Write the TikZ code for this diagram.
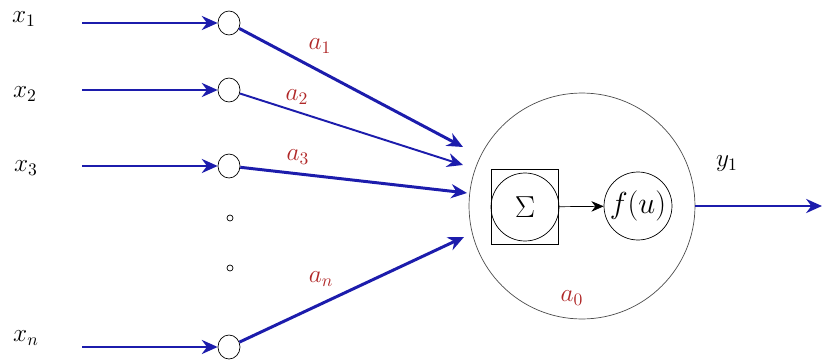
\documentclass[tikz,border=0pt]{standalone}
\usetikzlibrary{arrows.meta,shapes.geometric}
\definecolor{wireblue}{RGB}{28,28,172}
\definecolor{weightred}{RGB}{176,40,40}
\tikzset{
  wire/.style={draw=wireblue, line width=1.7pt, -{Stealth[length=9pt,width=8pt]}},
  thinwire/.style={wire, line width=1.1pt},
  port/.style={draw, ellipse, fill=white, minimum width=0.44cm, minimum height=0.48cm, inner sep=0pt},
  gap/.style={draw, circle, minimum size=0.12cm, inner sep=0pt},
  cell/.style={draw=black!70, circle, minimum size=4.52cm, inner sep=0pt},
  sumbox/.style={draw, minimum width=1.34cm, minimum height=1.5cm, inner sep=0pt},
  ring/.style={draw, circle, minimum size=1.36cm, inner sep=0pt},
  weight/.style={text=weightred}
}
\begin{document}
\begin{tikzpicture}[x=0.02cm, y=-0.02cm, every node/.style={font=\fontsize{14}{16}\selectfont}]
  \useasboundingbox (0,0) rectangle (826,362);

  \node (x1) at (24,19) {$x_1$};
  \node (x2) at (25,94) {$x_2$};
  \node (x3) at (26,168) {$x_3$};
  \node (xn) at (26,338) {$x_n$};

  \node[port] (p1) at (229,23) {};
  \node[port] (p2) at (229,90) {};
  \node[port] (p3) at (229,166) {};
  \node[port] (pn) at (229,347) {};
  \node[gap] (d1) at (230,218) {};
  \node[gap] (d2) at (230,268) {};

  \coordinate (s1) at (82,23);
  \coordinate (s2) at (82,90);
  \coordinate (s3) at (82,166);
  \coordinate (sn) at (82,347);
  \draw[wire] (s1) -- (p1);
  \draw[wire] (s2) -- (p2);
  \draw[wire] (s3) -- (p3);
  \draw[wire] (sn) -- (pn);

  \node[cell] (cell) at (582,206) {};
  \node[sumbox] (sum) at (525,207) {};
  \node[ring] (sumring) at (sum.center) {\fontsize{17}{19}\selectfont$\Sigma$};
  \node[ring] (act) at (638,206) {\fontsize{17}{19}\selectfont$f(u)$};
  \draw[-{Stealth[length=7pt,width=6pt]}] (sum) -- (act);

  \coordinate (t1) at (463,147);
  \coordinate (t2) at (463,165);
  \coordinate (t3) at (467,193);
  \coordinate (tn) at (464,237);
  \draw[wire] (p1) -- (t1);
  \draw[thinwire] (p2) -- (t2);
  \draw[wire] (p3) -- (t3);
  \draw[wire] (pn) -- (tn);

  \coordinate (out) at (822,206);
  \draw[wire] (cell) -- (out);

  \node[weight] (a1) at (320,46) {$a_1$};
  \node[weight] (a2) at (297,97) {$a_2$};
  \node[weight] (a3) at (298,157) {$a_3$};
  \node[weight] (an) at (321,279) {$a_n$};
  \node[weight] (a0) at (572,298) {$a_0$};
  \node (y1) at (727,164) {$y_1$};
\end{tikzpicture}
\end{document}
